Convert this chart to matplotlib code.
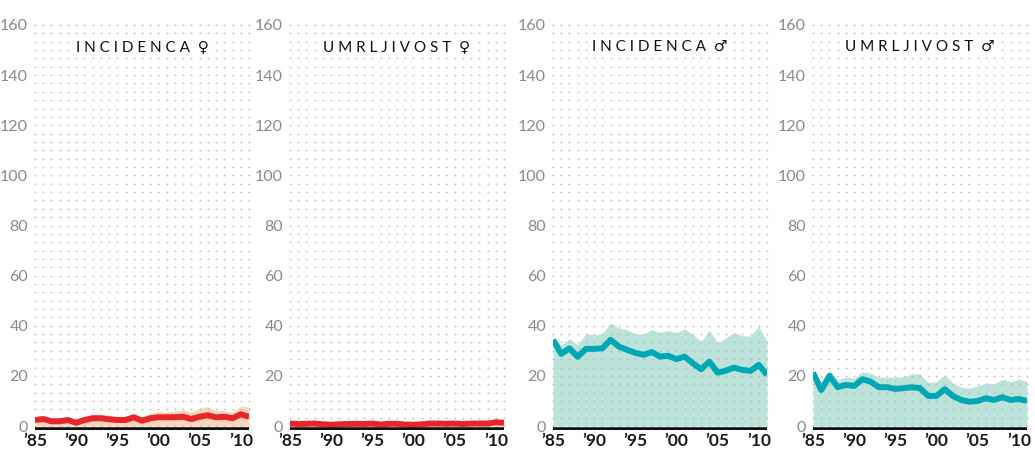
import numpy as np
import matplotlib
matplotlib.use("Agg")
import matplotlib.pyplot as plt

years = list(range(1985, 2012))

inc_f_line = [2.4, 2.8, 1.9, 1.9, 2.4, 1.3, 2.4, 3.1, 3.1, 2.7, 2.4, 2.4, 3.5, 2.1, 3.1, 3.5,
              3.5, 3.5, 3.7, 2.8, 3.7, 4.3, 3.5, 3.7, 3.1, 4.7, 3.7]
inc_f_upper = [3.7, 4.0, 3.1, 3.1, 3.5, 2.7, 3.7, 4.7, 4.7, 4.4, 3.7, 4.0, 4.7, 3.7, 5.2, 5.6,
               5.6, 5.9, 6.5, 5.6, 7.2, 7.6, 6.1, 6.1, 5.5, 8.1, 7.5]

mort_f_line = [1.0, 0.8, 0.9, 1.0, 0.7, 0.5, 0.7, 0.8, 0.9, 0.8, 1.0, 0.6, 0.9, 0.9, 0.6, 0.5,
               0.7, 1.0, 1.0, 0.9, 1.0, 0.8, 1.0, 1.0, 1.0, 1.5, 1.3]
mort_f_upper = [1.4, 1.2, 1.3, 1.5, 1.1, 0.9, 1.1, 1.2, 1.4, 1.2, 1.5, 1.0, 1.4, 1.4, 1.0, 0.9,
                1.2, 1.5, 1.5, 1.4, 1.5, 1.3, 1.5, 1.6, 1.7, 2.6, 2.0]

inc_m_line = [34.4, 28.8, 31.0, 27.6, 30.8, 30.8, 31.0, 34.4, 31.7, 30.4, 29.2, 28.4, 29.5, 27.7,
              28.0, 26.7, 27.7, 25.0, 22.7, 25.7, 21.3, 22.1, 23.3, 22.4, 22.0, 24.4, 20.4]
inc_m_upper = [34.8, 32.4, 34.8, 32.4, 36.8, 36.4, 36.8, 41.2, 39.2, 38.4, 36.8, 36.8, 38.4, 37.3,
               38.1, 37.2, 38.8, 36.4, 33.7, 38.4, 33.1, 35.2, 37.3, 36.0, 36.0, 39.7, 33.7]

mort_m_line = [21.3, 14.4, 20.0, 15.5, 16.4, 16.0, 18.7, 17.7, 15.5, 15.5, 14.8, 15.1, 15.5, 15.1,
               12.0, 12.0, 14.7, 12.0, 10.4, 9.7, 10.0, 11.1, 10.4, 11.5, 10.4, 10.8, 10.0]
mort_m_upper = [21.7, 17.1, 22.4, 18.4, 19.5, 19.1, 21.7, 21.1, 19.5, 19.5, 19.5, 19.7, 20.8, 20.8,
                17.3, 17.7, 20.4, 17.1, 15.5, 15.1, 16.0, 17.1, 16.8, 18.7, 17.7, 18.7, 17.7]

titles = ["I N C I D E N C A  ♀", "U M R L J I V O S T  ♀",
          "I N C I D E N C A  ♂", "U M R L J I V O S T  ♂"]
yticks = [0, 20, 40, 60, 80, 100, 120, 140, 160]
xticks = [1985, 1990, 1995, 2000, 2005, 2010]
xticklabels = ["’85", "’90", "’95", "’00", "’05", "’10"]

panels = [
    (inc_f_line, inc_f_upper, "#e8252b", "#fdd6b9"),
    (mort_f_line, mort_f_upper, "#e8252b", "#fdd6b9"),
    (inc_m_line, inc_m_upper, "#00a8b5", "#bce3da"),
    (mort_m_line, mort_m_upper, "#00a8b5", "#bce3da"),
]

W, H = 1035, 450
fig = plt.figure(figsize=(W / 100, H / 100), dpi=100)
lefts = [35, 290, 553, 813]
axw = 214
y_bottom_px = 429.8
y_top_px = 25
ymin, ymax = -1.5, 160

fam = ["Lato", "DejaVu Sans"]

for i, (line, upper, lc, fc) in enumerate(panels):
    ax = fig.add_axes([lefts[i] / W, (H - y_bottom_px) / H, axw / W,
                       (y_bottom_px - y_top_px) / H])
    ax.set_xlim(1985, 2011)
    ax.set_ylim(ymin, ymax)
    for s in ax.spines.values():
        s.set_visible(False)
    ax.fill_between(years, 0, upper, color=fc, lw=0, zorder=1)
    gx, gy = np.meshgrid(years, np.arange(0, 160.01, 10 / 3))
    ax.scatter(gx.ravel(), gy.ravel(), s=1.5, color="#b8b8b8", lw=0, zorder=2, clip_on=False)
    ax.plot(years, line, color=lc, lw=4.3, solid_joinstyle="round", solid_capstyle="butt", zorder=3)
    ax.axhline(-1.2, color="#111111", lw=2.6, zorder=4)
    ax.set_yticks(yticks)
    ax.set_yticklabels([str(v) for v in yticks], color="#8a8a8a", fontsize=11.5, family=fam)
    ax.set_xticks(xticks)
    ax.set_xticklabels(xticklabels, color="#1a1a1a", fontsize=12.5, fontweight="bold", family=fam)
    ax.tick_params(axis="y", length=0, pad=5)
    ax.tick_params(axis="x", length=0, pad=2)
    ax.text(0.5, 0.946, titles[i], transform=ax.transAxes, ha="center", va="center",
            fontsize=11, color="#111111", family=fam,
            bbox=dict(facecolor="white", edgecolor="none", pad=2), zorder=5)

fig.savefig("out.png", dpi=100)
